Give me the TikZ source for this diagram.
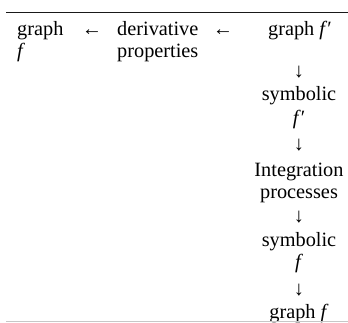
\documentclass[tikz,border=0pt]{standalone}
\usepackage{fontspec}
\setmainfont{Liberation Serif}
\begin{document}
\begin{tikzpicture}[x=1pt,y=-1pt,
  txt/.style={inner sep=0pt,font=\fontsize{20.3}{23.6}\selectfont,text=black},
  lt/.style={txt,anchor=base west},
  ct/.style={txt,anchor=base},
  arr/.style={txt,anchor=base}]
\useasboundingbox (0,0) rectangle (348,322);
\draw[line width=1.3pt,black!90] (6,12.5) -- (348,12.5);
% row 1
\node[lt] (g1) at (17,35) {graph};
\node[lt] (g1b) at (17,57) {\textit{f}};
\node[arr] (a1) at (92,35) {←};
\node[lt] (d1) at (117,35) {derivative};
\node[lt] (d1b) at (117,57) {properties};
\node[arr] (a2) at (223,35) {←};
\node[ct] (gp) at (300,35) {graph \textit{f}′};
% column
\node[arr] (a3) at (299,77) {↓};
\node[ct] (s1) at (299,100) {symbolic};
\node[ct] (s1b) at (299,124) {\textit{f}′};
\node[arr] (a4) at (299,150) {↓};
\node[ct] (i1) at (299,176) {Integration};
\node[ct] (i1b) at (299,198) {processes};
\node[arr] (a5) at (299,222) {↓};
\node[ct] (s2) at (299,246) {symbolic};
\node[ct] (s2b) at (299,268) {\textit{f}};
\node[arr] (a6) at (299,295) {↓};
\node[ct] (gf) at (299,318) {graph \textit{f}};
\draw[line width=0.6pt,black!22] (6,321.3) -- (348,321.3);
\end{tikzpicture}
\end{document}
